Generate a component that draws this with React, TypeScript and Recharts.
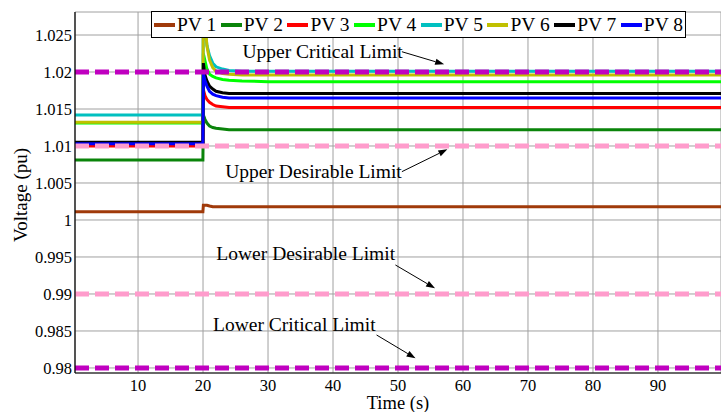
import React from 'react';
import {
  LineChart,
  Line,
  XAxis,
  YAxis,
  CartesianGrid,
  ReferenceLine,
  ReferenceDot,
} from 'recharts';

// Simulation time (s)
const time = [0, 19.98, 20.05, 20.3, 20.6, 21, 21.5, 22, 23, 24, 26, 30, 100];

// Bus voltages (pu) at each PV unit
const pv1 = [1.0011, 1.0011, 1.002, 1.002, 1.002, 1.0019, 1.0018, 1.0018, 1.0018, 1.0018, 1.0018, 1.0018, 1.0018];
const pv2 = [1.0081, 1.0081, 1.0142, 1.0136, 1.0131, 1.0127, 1.0125, 1.0124, 1.0123, 1.0122, 1.0122, 1.0122, 1.0122];
const pv3 = [1.01, 1.01, 1.0176, 1.0168, 1.0163, 1.0159, 1.0156, 1.0154, 1.0153, 1.0152, 1.0152, 1.0152, 1.0152];
const pv4 = [1.0131, 1.0131, 1.0225, 1.0215, 1.0204, 1.0197, 1.0194, 1.0192, 1.019, 1.0189, 1.0188, 1.0187, 1.0187];
const pv5 = [1.0142, 1.0142, 1.03, 1.026, 1.0236, 1.0222, 1.0212, 1.0207, 1.0204, 1.0202, 1.0201, 1.0201, 1.0201];
const pv6 = [1.0132, 1.0132, 1.032, 1.027, 1.0235, 1.0216, 1.0206, 1.0201, 1.0198, 1.0197, 1.0196, 1.0196, 1.0196];
const pv7 = [1.0105, 1.0105, 1.0212, 1.0196, 1.0188, 1.0181, 1.0177, 1.0174, 1.0172, 1.0171, 1.0171, 1.0171, 1.0171];
const pv8 = [1.0103, 1.0103, 1.0198, 1.0188, 1.0181, 1.0174, 1.017, 1.0168, 1.0166, 1.0165, 1.0165, 1.0165, 1.0165];

const seriesValues = [pv1, pv2, pv3, pv4, pv5, pv6, pv7, pv8];
const seriesNames = ['PV 1', 'PV 2', 'PV 3', 'PV 4', 'PV 5', 'PV 6', 'PV 7', 'PV 8'];
const seriesColors = ['#a03a0a', '#0a840a', '#ff0000', '#00ff00', '#00c0c0', '#c0c000', '#000000', '#0000ff'];

// Voltage limits (pu)
const limitValues = [1.02, 1.01, 0.99, 0.98];
const limitNames = ['Upper Critical Limit', 'Upper Desirable Limit', 'Lower Desirable Limit', 'Lower Critical Limit'];
const limitColors = ['#c000c0', '#ff9ccc', '#ff9ccc', '#c000c0'];

// Callout text anchors and arrows, in (time, pu)
const calloutText = [
  { t: 38.4, v: 1.02189 },
  { t: 37.0, v: 1.00568 },
  { t: 35.8, v: 0.99459 },
  { t: 34.05, v: 0.985 },
];
const calloutArrow = [
  [{ x: 50.6, y: 1.02274 }, { x: 57.1, y: 1.02104 }],
  [{ x: 50.6, y: 1.00653 }, { x: 57.6, y: 1.00955 }],
  [{ x: 49.6, y: 0.99392 }, { x: 55.7, y: 0.99077 }],
  [{ x: 46.7, y: 0.98446 }, { x: 52.7, y: 0.98131 }],
];

const xTicks = [10, 20, 30, 40, 50, 60, 70, 80, 90];
const yTicks = [0.98, 0.985, 0.99, 0.995, 1, 1.005, 1.01, 1.015, 1.02, 1.025];
const yTickLabels = ['0.98', '0.985', '0.99', '0.995', '1', '1.005', '1.01', '1.015', '1.02', '1.025'];

const rows = time.map((t, i) => {
  const row: Record<string, number> = { t };
  seriesValues.forEach((vals, k) => {
    row['pv' + (k + 1)] = vals[i];
  });
  return row;
});

const FONT = '"Liberation Serif", "Times New Roman", serif';

const Arrow = (props: any) => {
  const { x1, y1, x2, y2 } = props;
  if (![x1, y1, x2, y2].every((n) => Number.isFinite(n))) return null;
  const ang = Math.atan2(y2 - y1, x2 - x1);
  const len = 9;
  const hw = 3.2;
  const bx = x2 - len * Math.cos(ang);
  const by = y2 - len * Math.sin(ang);
  const px = -Math.sin(ang) * hw;
  const py = Math.cos(ang) * hw;
  return (
    <g>
      <line x1={x1} y1={y1} x2={bx} y2={by} stroke="#000" strokeWidth={1} />
      <polygon points={`${x2},${y2} ${bx + px},${by + py} ${bx - px},${by - py}`} fill="#000" />
    </g>
  );
};

const calloutShape = (name: string) => (p: any) => (
  <text x={p.cx} y={p.cy} textAnchor="middle" fontFamily={FONT} fontSize={19.5} fill="#000">
    {name}
  </text>
);

const YLabel = (props: any) => {
  const vb = props.viewBox || { x: 0, y: 12, width: 75, height: 361 };
  const x = vb.x + 27;
  const y = vb.y + vb.height / 2 + 2.5;
  return (
    <text x={x} y={y} transform={`rotate(-90, ${x}, ${y})`} textAnchor="middle" fontFamily={FONT} fontSize={19} fill="#000">
      Voltage (pu)
    </text>
  );
};

const XLabel = (props: any) => {
  const vb = props.viewBox || { x: 75, y: 373, width: 646, height: 39 };
  return (
    <text x={vb.x + vb.width / 2} y={vb.y + 36} textAnchor="middle" fontFamily={FONT} fontSize={18.5} fill="#000">
      Time (s)
    </text>
  );
};

export default function App() {
  return (
    <div style={{ position: 'absolute', left: 0, top: 0, width: 721, height: 412, background: '#fff' }}>
      <LineChart
        width={721}
        height={412}
        data={rows}
        margin={{ top: 12, right: 0, bottom: 0, left: 0 }}
        style={{ fontFamily: FONT }}
      >
        <CartesianGrid stroke="#a0a0a0" strokeWidth={1} />
        <XAxis
          type="number"
          dataKey="t"
          domain={[0.3, 99.7]}
          ticks={xTicks}
          allowDataOverflow
          height={39}
          tickSize={0}
          tickMargin={6}
          tickLine={false}
          axisLine={{ stroke: '#000', strokeWidth: 1.2 }}
          tick={{ fill: '#000', fontSize: 16.5, fontFamily: FONT }}
          label={{ content: XLabel }}
        />
        <YAxis
          type="number"
          domain={[0.97932, 1.02811]}
          ticks={yTicks}
          allowDataOverflow
          width={75}
          tickSize={0}
          tickMargin={3}
          tickLine={false}
          interval={0}
          tickFormatter={(v: number, i: number) => yTickLabels[i]}
          axisLine={{ stroke: '#000', strokeWidth: 1.2 }}
          tick={{ fill: '#000', fontSize: 16.5, fontFamily: FONT }}
          label={{ content: YLabel }}
        />
        {seriesNames.map((name, k) => (
          <Line
            key={name}
            name={name}
            dataKey={'pv' + (k + 1)}
            type="linear"
            stroke={seriesColors[k]}
            strokeWidth={3}
            dot={false}
            activeDot={false}
            isAnimationActive={false}
          />
        ))}
        {limitValues.map((v, k) => (
          <ReferenceLine
            key={limitNames[k]}
            y={v}
            stroke={limitColors[k]}
            strokeWidth={5}
            strokeDasharray="14 6"
          />
        ))}
        {calloutArrow.map((seg, k) => (
          <ReferenceLine key={'arrow' + k} segment={seg} shape={Arrow} />
        ))}
        {calloutText.map((p, k) => (
          <ReferenceDot key={'text' + k} x={p.t} y={p.v} r={0} shape={calloutShape(limitNames[k])} />
        ))}
      </LineChart>
      <div
        style={{
          position: 'absolute',
          left: 151,
          top: 11,
          width: 535,
          height: 27,
          boxSizing: 'border-box',
          border: '1.5px solid #000',
          background: '#fff',
          display: 'flex',
          alignItems: 'center',
          paddingLeft: 2,
          fontFamily: FONT,
        }}
      >
        {seriesNames.map((name, k) => (
          <div key={name} style={{ width: 66.7, display: 'flex', alignItems: 'center', flex: 'none' }}>
            <span style={{ display: 'inline-block', width: 21, height: 4, background: seriesColors[k], marginRight: 2 }} />
            <span style={{ fontSize: 19.5, lineHeight: 1, color: '#000', whiteSpace: 'nowrap' }}>{name}</span>
          </div>
        ))}
      </div>
    </div>
  );
}
